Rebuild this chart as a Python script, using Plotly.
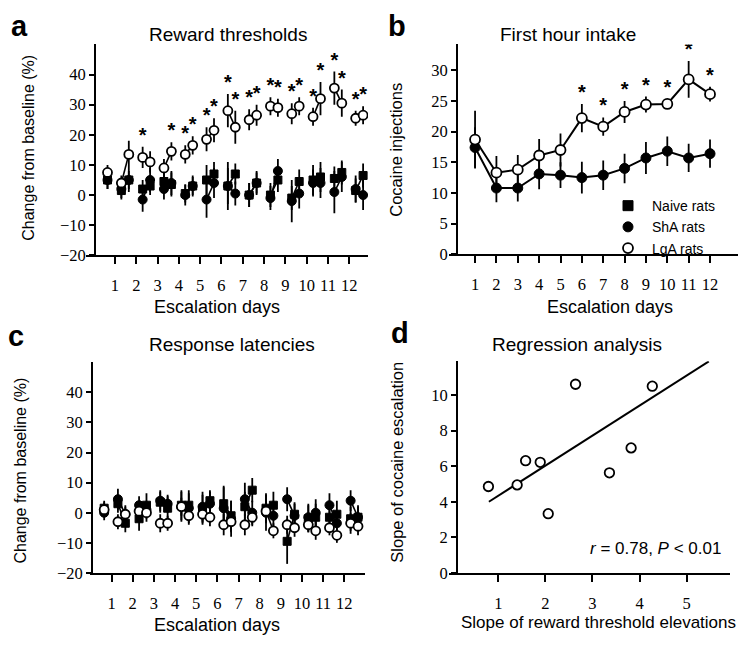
import plotly.graph_objects as go

# page body has an 8px margin: figure is sized to fit the 755x647 window exactly
PAGE_W, PAGE_H, PAD = 755, 647, 8
W, H = PAGE_W - 2 * PAD, PAGE_H - 2 * PAD

# ---------------- data ----------------
# panel a / c: sessions (baseline + two sessions per escalation day)
session_x = [0.65, 1.3, 1.65, 2.3, 2.65, 3.3, 3.65, 4.3, 4.65, 5.3, 5.65, 6.3, 6.65,
             7.3, 7.65, 8.3, 8.65, 9.3, 9.65, 10.3, 10.65, 11.3, 11.65, 12.3, 12.65]
day_ticks = [1, 2, 3, 4, 5, 6, 7, 8, 9, 10, 11, 12]
day_labels = ["1", "2", "3", "4", "5", "6", "7", "8", "9", "10", "11", "12"]

# a: Reward thresholds
lga_a = [7.5, 4, 13.5, 12.5, 11, 9, 14.5, 13.5, 16.5, 18.5, 21.5, 28, 22.5,
         25, 26.5, 29.5, 29, 27, 29.5, 26, 32, 35.5, 30.5, 25.5, 26.5]
lga_a_err = [2.5, 2.5, 4.5, 3.5, 3.5, 3, 3, 3, 3, 4, 4, 5.5, 5.5,
             3.5, 3.5, 3, 3, 3.5, 3, 3, 5.5, 5.5, 4.5, 2.5, 3]
sha_a = [5, 2, 5, -1.5, 5, 2, 4, 0, 3, -1.5, 4, 3, 0.5,
         0, 4, -1, 8, -2, 0.5, 4, 4, 1, 6, 2, 0]
sha_a_err = [3, 3, 4, 4, 4, 3.5, 4, 3.5, 3.5, 6, 5, 8, 4,
             4, 4, 4, 4, 7, 5, 4.5, 5, 7, 5, 4.5, 5]
naive_a = [5, 1.5, 5, 2, 3, 4.5, 3.5, 0.5, 3, 5, 7, 3, 7,
           0, 4, 0, 5, -1, 4.5, 5, 6, 5.5, 7.5, 1.5, 6.5]
naive_a_err = [3, 3, 3, 3, 3, 4, 4, 3, 3, 5, 4, 6, 3.5,
               4, 3.5, 4, 4, 4, 4, 5, 5, 4, 4, 4, 4]
sig_a = [False, False, False, True, False, False, True, True, True, True, True, True, True,
         True, True, True, True, True, True, True, True, True, True, True, True]

# b: First hour intake
days_b = [1, 2, 3, 4, 5, 6, 7, 8, 9, 10, 11, 12]
lga_b = [18.7, 13.3, 13.8, 16.1, 17.0, 22.2, 20.8, 23.2, 24.4, 24.5, 28.5, 26.1]
lga_b_err = [4.7, 2.7, 2.4, 2.7, 2.7, 2.3, 1.5, 1.8, 1.3, 0.8, 3.0, 1.2]
sha_b = [17.4, 10.8, 10.8, 13.1, 12.9, 12.5, 12.9, 14.0, 15.7, 16.8, 15.7, 16.4]
sha_b_err = [3.3, 2.3, 2.2, 2.5, 2.1, 2.6, 2.4, 2.4, 2.6, 2.4, 2.3, 2.3]
sig_b = [False, False, False, False, False, True, True, True, True, True, True, True]

# c: Response latencies
lga_c = [1, -3, -0.5, 0.5, 0, -3.5, -3.5, 2, -1, -0.5, -1.5, -4, -3,
         -4, -1.5, 0.5, -6, -4, -5, -4, -6, -5, -7.5, -3.5, -4.5]
lga_c_err = [2.5, 2.5, 2.5, 3, 3, 3, 2.5, 3, 3, 3, 3, 3.5, 3.5,
             3.5, 3, 3, 2.5, 3, 3, 2.5, 3, 2.5, 2.5, 3.5, 3]
sha_c = [0, 4.5, -0.5, 2.5, 1, 4, 3, 2, 1.5, 2, 3, 1.5, -2,
         4.5, 0, 0, -1, 4.5, -1, -1.5, 0, 2.5, -3.5, 4, -1.5]
sha_c_err = [2.5, 3.5, 3, 3, 3, 3.5, 3, 5, 5, 5, 4, 7, 6,
             5.5, 4, 6, 5, 4, 4, 4.5, 4.5, 4, 4, 3.5, 3.5]
naive_c = [1.5, 3, -3.5, -2, 2.5, 3.5, 1.5, 2.5, 2.5, 1, 4, 3, -1,
           2, 7.5, 1.5, 2.5, -9.5, -0.5, -2, -1.5, -1.5, -0.5, -2, -1.5]
naive_c_err = [2.5, 3, 3, 4, 4, 3.5, 4, 5, 5, 5, 3.5, 6, 5,
               5, 4, 5, 4.5, 7.5, 4, 4.5, 4.5, 4.5, 4.5, 4, 4]

# d: Regression analysis
d_x = [0.79, 1.40, 1.58, 1.89, 2.06, 2.64, 3.36, 3.82, 4.27]
d_y = [4.86, 4.95, 6.31, 6.22, 3.33, 10.61, 5.63, 7.03, 10.5]
fit_slope = 1.69
fit_intercept = 2.65
fit_x = [0.8, 5.47]

# ---------------- helpers ----------------
def pair_lines(xs, ys):
    lx, ly = [], []
    for i in range(1, len(xs) - 1, 2):
        lx += [xs[i], xs[i + 1], None]
        ly += [ys[i], ys[i + 1], None]
    return lx, ly

BLACK = "black"
OPEN = dict(symbol="circle", color="white", line=dict(color=BLACK, width=1.8))
FILLED = dict(symbol="circle", color=BLACK, line=dict(color=BLACK, width=1))
SQUARE = dict(symbol="square", color=BLACK, line=dict(color=BLACK, width=1))
STARFONT = dict(family="Liberation Sans", size=20, color=BLACK, weight="bold")

fig = go.Figure()

def add_session_panel(xa, ya, series):
    for vals, errs, mk, size in series:
        lx, ly = pair_lines(session_x, vals)
        fig.add_trace(go.Scatter(x=lx, y=ly, mode="lines", line=dict(color=BLACK, width=1.6),
                                 xaxis=xa, yaxis=ya, showlegend=False, hoverinfo="skip"))
        fig.add_trace(go.Scatter(x=session_x, y=vals, mode="markers",
                                 marker=dict(size=size, **mk),
                                 error_y=dict(type="data", array=errs, visible=True,
                                              color=BLACK, thickness=1.8, width=0),
                                 xaxis=xa, yaxis=ya, showlegend=False))

# panel a
add_session_panel("x", "y", [(naive_a, naive_a_err, SQUARE, 8),
                             (sha_a, sha_a_err, FILLED, 9),
                             (lga_a, lga_a_err, OPEN, 9)])
star_ax = [x for x, s in zip(session_x, sig_a) if s]
star_ay = [v + e for v, e, s in zip(lga_a, lga_a_err, sig_a) if s]
fig.add_trace(go.Scatter(x=star_ax, y=star_ay, mode="text", text=["*"] * len(star_ax),
                         textposition="top center", textfont=STARFONT,
                         xaxis="x", yaxis="y", showlegend=False, hoverinfo="skip"))

# panel b
for vals, errs, mk in [(sha_b, sha_b_err, FILLED), (lga_b, lga_b_err, OPEN)]:
    fig.add_trace(go.Scatter(x=days_b, y=vals, mode="lines+markers",
                             line=dict(color=BLACK, width=2),
                             marker=dict(size=10, **mk),
                             error_y=dict(type="data", array=errs, visible=True,
                                          color=BLACK, thickness=1.8, width=0),
                             xaxis="x2", yaxis="y2", showlegend=False))
star_bx = [d for d, s in zip(days_b, sig_b) if s]
star_by = [v + e for v, e, s in zip(lga_b, lga_b_err, sig_b) if s]
fig.add_trace(go.Scatter(x=star_bx, y=star_by, mode="text", text=["*"] * len(star_bx),
                         textposition="top center", textfont=STARFONT,
                         xaxis="x2", yaxis="y2", showlegend=False, hoverinfo="skip"))
# legend entries
for name, mk in [("Naive rats", SQUARE), ("ShA rats", FILLED), ("LgA rats", OPEN)]:
    fig.add_trace(go.Scatter(x=[None], y=[None], mode="markers", name=name,
                             marker=dict(size=10, **mk), xaxis="x2", yaxis="y2"))

# panel c
add_session_panel("x3", "y3", [(naive_c, naive_c_err, SQUARE, 8),
                               (sha_c, sha_c_err, FILLED, 9),
                               (lga_c, lga_c_err, OPEN, 9)])

# panel d
fit_y = [fit_intercept + fit_slope * x for x in fit_x]
fig.add_trace(go.Scatter(x=fit_x, y=fit_y, mode="lines", line=dict(color=BLACK, width=2),
                         xaxis="x4", yaxis="y4", showlegend=False, hoverinfo="skip"))
fig.add_trace(go.Scatter(x=d_x, y=d_y, mode="markers", marker=dict(size=9.5, **OPEN),
                         xaxis="x4", yaxis="y4", showlegend=False))

# ---------------- layout ----------------
def px_x(p):
    return (p - PAD) / W

def px_y(p):
    return 1 - (p - PAD) / H

tickfont = dict(family="Liberation Serif", size=16.5, color=BLACK)
base = dict(showline=True, linecolor=BLACK, linewidth=2, ticks="outside", tickwidth=2,
            tickcolor=BLACK, showgrid=False, zeroline=False, tickfont=tickfont, fixedrange=True)

def xax(domain, rng, tv, tt, anchor):
    return dict(base, domain=domain, range=rng, tickvals=tv, ticktext=tt, anchor=anchor,
                ticklen=7, ticklabelstandoff=7)

def yax(domain, rng, tv, xpos):
    return dict(base, domain=domain, range=rng, tickvals=tv, anchor="free",
                position=px_x(xpos), ticklen=5)

fig.update_layout(
    width=W, height=H, margin=dict(l=0, r=0, t=0, b=0),
    paper_bgcolor="white", plot_bgcolor="white",
    xaxis=xax([px_x(86), px_x(368)], [-0.36, 12.88], day_ticks, day_labels, "y"),
    yaxis=yax([px_y(259.3), px_y(45)], [-20, 50], [-20, -10, 0, 10, 20, 30, 40], 95),
    xaxis2=xax([px_x(449), px_x(738)], [-0.22, 13.31], days_b, day_labels, "y2"),
    yaxis2=yax([px_y(258.3), px_y(45)], [0, 34.2], [0, 5, 10, 15, 20, 25, 30], 457),
    xaxis3=xax([px_x(90), px_x(365)], [-0.02, 12.98], day_ticks, day_labels, "y3"),
    yaxis3=yax([px_y(582), px_y(368)], [-20, 50], [-20, -10, 0, 10, 20, 30, 40], 92),
    xaxis4=xax([px_x(449), px_x(730)], [-0.047, 5.92], [1, 2, 3, 4, 5],
               ["1", "2", "3", "4", "5"], "y4"),
    yaxis4=yax([px_y(582), px_y(367)], [0, 11.9], [0, 2, 4, 6, 8, 10], 457),
    legend=dict(x=px_x(604), y=px_y(193), xanchor="left", yanchor="top",
                font=dict(family="Liberation Sans", size=14, color=BLACK),
                bgcolor="rgba(0,0,0,0)", itemclick=False, tracegroupgap=0, itemwidth=38),
    showlegend=True,
)

sans = "Liberation Sans"
ann = []
def text(x, y, s, size, angle=0, bold=False, xanchor="center"):
    ann.append(dict(x=px_x(x), y=px_y(y), xref="paper", yref="paper", text=s,
                    showarrow=False, textangle=angle, xanchor=xanchor, yanchor="middle",
                    font=dict(family=sans, size=size, color=BLACK,
                              weight="bold" if bold else "normal")))

# panel letters
text(19, 26, "a", 29, bold=True)
text(397, 26, "b", 29, bold=True)
text(16, 341, "c", 29, bold=True)
text(400, 338, "d", 29, bold=True)
# titles
text(228, 35, "Reward thresholds", 19)
text(568, 35, "First hour intake", 19)
text(232, 350, "Response latencies", 19)
text(577, 350, "Regression analysis", 19)
# x titles
text(217, 312, "Escalation days", 18)
text(610, 312, "Escalation days", 18)
text(217, 635, "Escalation days", 18)
text(598, 632, "Slope of reward threshold elevations", 17)
# y titles
text(29, 150, "Change from baseline (%)", 16, angle=-90)
text(396, 152, "Cocaine injections", 16.5, angle=-90)
text(21, 478, "Change from baseline (%)", 16, angle=-90)
text(397, 470, "Slope of cocaine escalation", 16.5, angle=-90)
# stats
text(723, 557, "<i>r</i> = 0.78, <i>P</i> &lt; 0.01", 17, xanchor="right")

fig.update_layout(annotations=ann)
fig.write_html("out.html")
